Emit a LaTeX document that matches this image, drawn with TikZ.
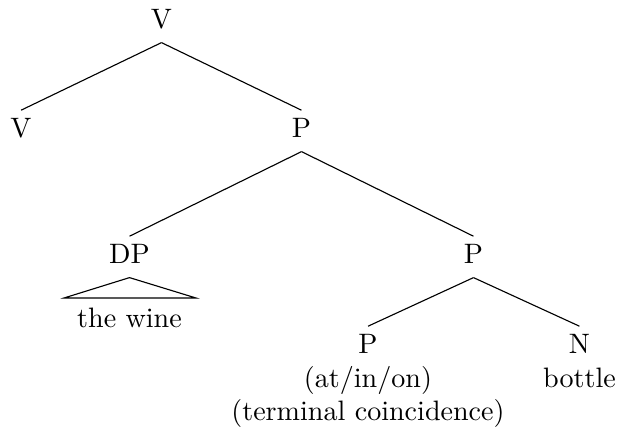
\documentclass[tikz,border=0pt]{standalone}
\begin{document}
\begin{tikzpicture}[x=0.356pt,y=-0.356pt,
  tn/.style={inner xsep=0pt, inner ysep=2.5pt, text height=6.83pt, text depth=2.5pt, anchor=base},
  lab/.style={inner sep=0pt, anchor=base},
  br/.style={line width=0.4pt}]
\useasboundingbox (0,0) rectangle (618,432);
\node[tn] (v0) at (161.5,28) {V};
\node[tn] (v1) at (21,137) {V};
\node[tn] (p1) at (301.5,137) {P};
\node[tn] (dp) at (129.5,263) {DP};
\node[tn] (p2) at (473.5,263) {P};
\node[tn] (p3) at (368,353) {P};
\node[tn] (n) at (579.5,353) {N};
\node[lab] (tw) at (129.5,327) {the wine};
\node[lab] (aio) at (368,387) {(at/in/on)};
\node[lab] (tc) at (368,420) {(terminal coincidence)};
\node[lab] (bt) at (579.5,387) {bottle};
\coordinate (tl) at (64,298);
\coordinate (tr) at (196,298);
\draw[br] (v0.south) -- (v1.north);
\draw[br] (v0.south) -- (p1.north);
\draw[br] (p1.south) -- (dp.north);
\draw[br] (p1.south) -- (p2.north);
\draw[br] (p2.south) -- (p3.north);
\draw[br] (p2.south) -- (n.north);
\draw[br] (dp.south) -- (tl) -- (tr) -- cycle;
\end{tikzpicture}
\end{document}
